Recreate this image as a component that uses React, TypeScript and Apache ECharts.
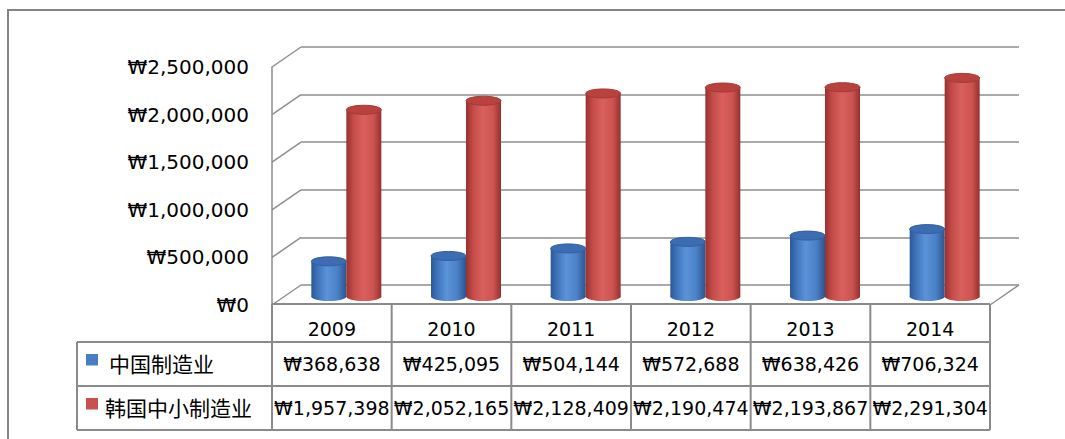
import React, { useEffect, useRef } from "react";
import * as echarts from "echarts";

// ---- data ----
const years = ["2009", "2010", "2011", "2012", "2013", "2014"];
const seriesNames = ["中国制造业", "韩国中小制造业"];
const chinaMfg = [368638, 425095, 504144, 572688, 638426, 706324];
const koreaSmeMfg = [1957398, 2052165, 2128409, 2190474, 2193867, 2291304];
const yTicks = [0, 500000, 1000000, 1500000, 2000000, 2500000];

// ---- layout (pixels) ----
const W = 1065;
const H = 439;
const FRONT = { left: 272, top: 67, width: 718, height: 238 };
const DEPTH_DX = 29;
const DEPTH_DY = -20;
const MID = { left: 286.5, top: 58, width: 718, height: 238.5 };
const CYL_RX = 17.5;
const CYL_RY = 4.5;
const TABLE_ROWS = [304, 342, 386, 430];
const TABLE_LEFT = 77;
const GRID_COLOR = "#8e8e8e";
const TABLE_COLOR = "#8a8a8a";
const NUM_FONT = "DejaVu Sans";
const CJK_FONT = "Noto Sans CJK SC";

const won = (v: number) => "₩" + v.toLocaleString("en-US");

const BLUE = {
  body: [
    [0, "#2c5896"],
    [0.18, "#3e73ba"],
    [0.45, "#5b93d8"],
    [0.75, "#4a80c6"],
    [1, "#2a5590"],
  ],
  top: "#3c6db3",
  rim: "#345f9e",
  legend: "#4a7ec4",
};
const RED = {
  body: [
    [0, "#983130"],
    [0.2, "#c34b48"],
    [0.48, "#d9605d"],
    [0.78, "#cc5350"],
    [1, "#953030"],
  ],
  top: "#b9423f",
  rim: "#a33a38",
  legend: "#c8504d",
};

function gradient(stops: (number | string)[][]) {
  return new echarts.graphic.LinearGradient(
    0,
    0,
    1,
    0,
    stops.map(([offset, color]) => ({ offset: offset as number, color: color as string }))
  );
}

// Draws one cylinder per category, shifted left (-1) or right (+1) of the band centre.
function cylinderRenderer(side: number, palette: typeof BLUE) {
  return (params: any, api: any) => {
    const idx = api.value(0);
    const val = api.value(1);
    const top = api.coord([idx, val]);
    const base = api.coord([idx, 0]);
    const cx = base[0] + side * CYL_RX;
    const l = cx - CYL_RX;
    return {
      type: "group",
      children: [
        {
          type: "ellipse",
          shape: { cx, cy: base[1], rx: CYL_RX, ry: CYL_RY },
          style: { fill: gradient(palette.body) },
        },
        {
          type: "rect",
          shape: { x: l, y: top[1], width: CYL_RX * 2, height: base[1] - top[1] },
          style: { fill: gradient(palette.body) },
        },
        {
          type: "ellipse",
          shape: { cx, cy: top[1], rx: CYL_RX, ry: CYL_RY },
          style: { fill: palette.top, stroke: palette.rim, lineWidth: 1 },
        },
      ],
    };
  };
}

// Side-wall diagonals at every value tick, plus the right edge of the floor.
function wallRenderer(params: any, api: any) {
  const v = api.value(1);
  const p = api.coord([0, v]);
  const cs = params.coordSys;
  const x0 = cs.x;
  const children: any[] = [
    {
      type: "line",
      shape: { x1: x0, y1: p[1], x2: x0 + DEPTH_DX, y2: p[1] + DEPTH_DY },
      style: { stroke: GRID_COLOR, lineWidth: 1.5 },
    },
  ];
  if (v === 0) {
    const xr = cs.x + cs.width;
    children.push({
      type: "line",
      shape: { x1: xr, y1: p[1], x2: xr + DEPTH_DX, y2: p[1] + DEPTH_DY },
      style: { stroke: GRID_COLOR, lineWidth: 1.5 },
    });
  }
  return { type: "group", children };
}

function buildTable() {
  const colW = FRONT.width / years.length;
  const x0 = FRONT.left;
  const x1 = FRONT.left + FRONT.width;
  const els: any[] = [];
  const line = (a: number, b: number, c: number, d: number) =>
    els.push({
      type: "line",
      silent: true,
      shape: { x1: a, y1: b, x2: c, y2: d },
      style: { stroke: TABLE_COLOR, lineWidth: 2 },
    });
  line(x0, TABLE_ROWS[0], x1, TABLE_ROWS[0]);
  for (let r = 1; r < TABLE_ROWS.length; r++) line(TABLE_LEFT, TABLE_ROWS[r], x1, TABLE_ROWS[r]);
  line(TABLE_LEFT, TABLE_ROWS[1], TABLE_LEFT, TABLE_ROWS[3]);
  for (let c = 0; c <= years.length; c++) {
    const x = x0 + c * colW;
    line(x, TABLE_ROWS[0], x, TABLE_ROWS[3]);
  }
  const rowsText = [years, chinaMfg.map(won), koreaSmeMfg.map(won)];
  const rowY = [329, 364, 408];
  rowsText.forEach((row, r) =>
    row.forEach((t, c) =>
      els.push({
        type: "text",
        silent: true,
        style: {
          text: t,
          x: x0 + (c + 0.5) * colW,
          y: rowY[r],
          textAlign: "center",
          textVerticalAlign: "middle",
          fontSize: 19,
          fontFamily: NUM_FONT,
          fill: "#000",
        },
      })
    )
  );
  const palettes = [BLUE, RED];
  const legendX = [109, 105];
  seriesNames.forEach((name, i) => {
    els.push({
      type: "rect",
      silent: true,
      shape: { x: 86, y: rowY[i + 1] - 10, width: 12, height: 11.5 },
      style: { fill: palettes[i].legend },
    });
    els.push({
      type: "text",
      silent: true,
      style: {
        text: name,
        x: legendX[i],
        y: rowY[i + 1] - 1,
        textAlign: "left",
        textVerticalAlign: "middle",
        fontSize: 21,
        fontFamily: CJK_FONT,
        fill: "#000",
      },
    });
  });
  return els;
}

function hiddenCategoryAxis(gridIndex: number) {
  return {
    type: "category" as const,
    gridIndex,
    data: years,
    show: false,
  };
}

function valueAxis(gridIndex: number, extra: any) {
  return {
    type: "value" as const,
    gridIndex,
    min: 0,
    max: 2500000,
    interval: 500000,
    axisTick: { show: false },
    ...extra,
  };
}

export default function App() {
  const ref = useRef<HTMLDivElement>(null);

  useEffect(() => {
    if (!ref.current) return;
    const chart = echarts.init(ref.current, undefined, { renderer: "svg" });
    chart.setOption({
      animation: false,
      backgroundColor: "#ffffff",
      grid: [
        { ...FRONT },
        {
          left: FRONT.left + DEPTH_DX,
          top: FRONT.top + DEPTH_DY,
          width: FRONT.width,
          height: FRONT.height,
        },
        { ...MID },
      ],
      xAxis: [hiddenCategoryAxis(0), hiddenCategoryAxis(1), hiddenCategoryAxis(2)],
      yAxis: [
        valueAxis(0, {
          axisLine: { show: true, lineStyle: { color: GRID_COLOR, width: 1.5 } },
          splitLine: { show: false },
          axisLabel: {
            formatter: (v: number) => won(v),
            fontSize: 20,
            fontFamily: NUM_FONT,
            color: "#000",
            margin: 23,
            padding: [5, 0, 0, 0],
          },
        }),
        valueAxis(1, {
          axisLine: { show: false },
          axisLabel: { show: false },
          splitLine: { show: true, lineStyle: { color: GRID_COLOR, width: 1.5 } },
        }),
        valueAxis(2, {
          axisLine: { show: false },
          axisLabel: { show: false },
          splitLine: { show: false },
        }),
      ],
      graphic: [
        {
          type: "rect",
          silent: true,
          shape: { x: 8, y: 10, width: 1200, height: 600 },
          style: { fill: "none", stroke: "#858585", lineWidth: 2 },
        },
        ...buildTable(),
      ],
      series: [
        {
          type: "custom",
          name: "walls",
          xAxisIndex: 0,
          yAxisIndex: 0,
          silent: true,
          renderItem: wallRenderer,
          data: yTicks.map((v) => [0, v]),
        },
        {
          type: "custom",
          name: seriesNames[0],
          xAxisIndex: 2,
          yAxisIndex: 2,
          renderItem: cylinderRenderer(-1, BLUE),
          data: chinaMfg.map((v, i) => [i, v]),
        },
        {
          type: "custom",
          name: seriesNames[1],
          xAxisIndex: 2,
          yAxisIndex: 2,
          renderItem: cylinderRenderer(1, RED),
          data: koreaSmeMfg.map((v, i) => [i, v]),
        },
      ],
    });
    return () => chart.dispose();
  }, []);

  return (
    <div
      ref={ref}
      style={{ position: "absolute", left: 0, top: 0, width: W, height: H }}
    />
  );
}
